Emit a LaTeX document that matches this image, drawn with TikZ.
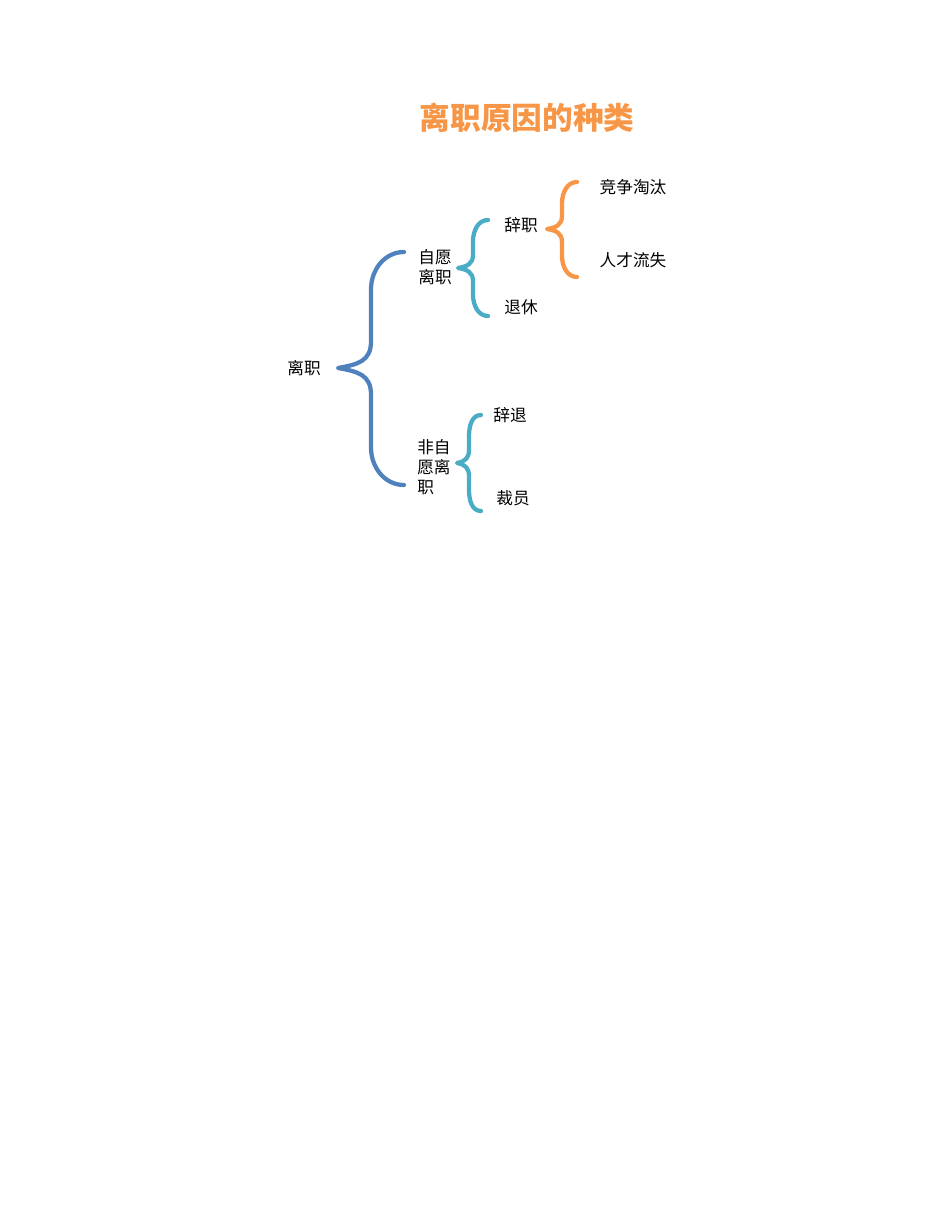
\documentclass[tikz,border=0pt]{standalone}
\usepackage{fontspec}
\setmainfont{Noto Sans CJK SC}
\usepackage{tikz}
\usetikzlibrary{calc}

\definecolor{braceBlue}{HTML}{4F81BD}
\definecolor{braceTeal}{HTML}{4BACC6}
\definecolor{braceOrange}{HTML}{F79646}

% brace from top end (#3) to tip (#2) to bottom end (#4),
% end bend #5, tip bend #6
\newcommand{\curlyBrace}[6]{%
  \path ($(#2)!0.5!(#3)$) coordinate (bm);
  \draw[#1] (#3) to[out=180,in=90] ($(bm |- #3)+(0,-#5)$)
    -- ($(bm |- #2)+(0,#6)$) to[out=-90,in=10,looseness=1.2] (#2)
    to[out=-10,in=90,looseness=1.2] ($(bm |- #2)+(0,-#6)$)
    -- ($(bm |- #4)+(0,#5)$) to[out=-90,in=180] (#4);
}

\begin{document}
\begin{tikzpicture}[
    x=0.75pt, y=-0.75pt,
    label/.style={inner sep=0pt, font=\fontsize{12.5}{15}\selectfont},
    title/.style={inner sep=0pt, text=braceOrange, font=\fontsize{23}{28}\selectfont\bfseries},
    brace/.style={line width=3.2pt, line cap=round, line join=round}
]
\useasboundingbox (0,0) rectangle (950,1230);

% Title
\node[title] (heading) at (527,118) {离职原因的种类};

% Labels
\node[label] (leave) at (304,368) {离职};
\node[label, align=center] (voluntary) at (435,267) {自愿\\离职};
\node[label, anchor=west, align=left] (involuntary) at (417,467) {非自\\愿离\\职};
\node[label] (resign) at (521,225) {辞职};
\node[label] (retire) at (521,307) {退休};
\node[label] (eliminate) at (633,187) {竞争淘汰};
\node[label] (drain) at (633,260) {人才流失};
\node[label] (dismiss) at (510,415) {辞退};
\node[label] (layoff) at (513,498) {裁员};

% Brace ends
\coordinate (leaveTip) at (338,368);
\coordinate (leaveTop) at (404,252);
\coordinate (leaveBot) at (404,485);
\coordinate (volTip) at (458,268);
\coordinate (volTop) at (488,220);
\coordinate (volBot) at (488,316);
\coordinate (resignTip) at (547,229);
\coordinate (resignTop) at (577,182);
\coordinate (resignBot) at (577,277);
\coordinate (invTip) at (457,463);
\coordinate (invTop) at (481,415);
\coordinate (invBot) at (481,511);

% Braces
\curlyBrace{brace, braceBlue}{leaveTip}{leaveTop}{leaveBot}{28pt}{20pt}
\curlyBrace{brace, braceTeal}{volTip}{volTop}{volBot}{16pt}{10pt}
\curlyBrace{brace, braceOrange}{resignTip}{resignTop}{resignBot}{16pt}{10pt}
\curlyBrace{brace, braceTeal}{invTip}{invTop}{invBot}{16pt}{10pt}

\end{tikzpicture}
\end{document}
